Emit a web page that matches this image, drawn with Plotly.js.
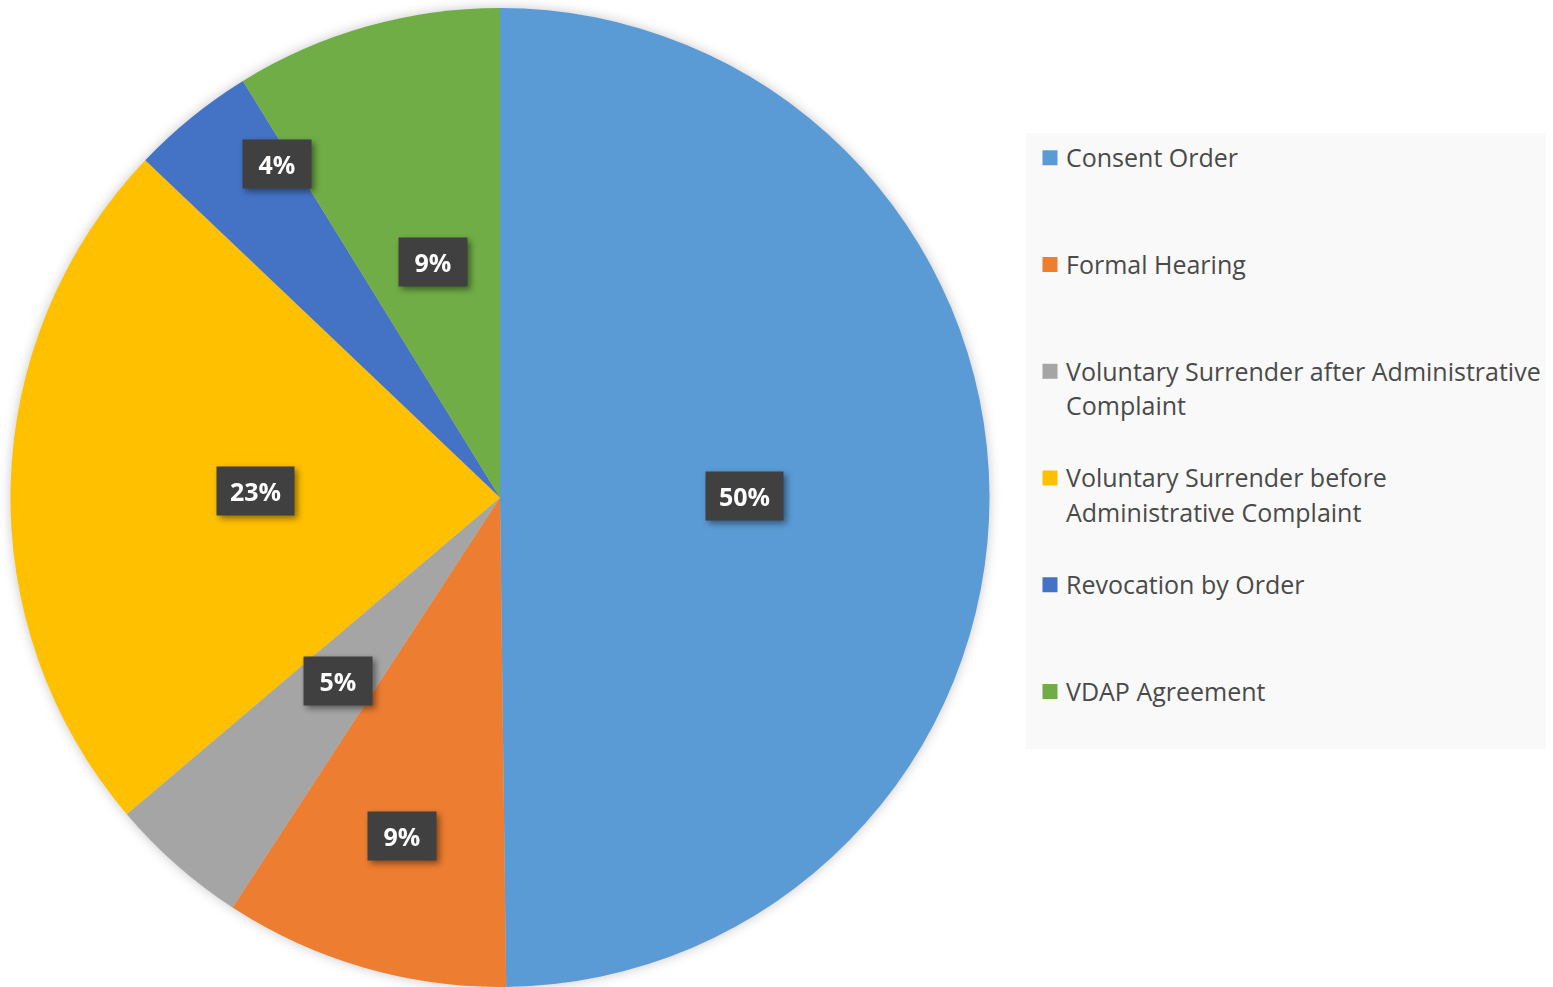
<!DOCTYPE html>
<html>
<head>
<meta charset="utf-8">
<script src="https://cdn.plot.ly/plotly-3.0.1.min.js"></script>
<style>
  html, body { margin: 0; padding: 0; background: #ffffff; }
  #chart { width: 1553px; height: 987px; }
  .pielayer { filter: drop-shadow(0px 0px 6px rgba(0,0,0,0.22)); }
  .annotation { filter: drop-shadow(3px 3px 3px rgba(0,0,0,0.45)); }
  .legend .legendpie { transform: translate(24px, 1px) scale(1.25); }
</style>
</head>
<body>
<div id="chart"></div>
<script>
// ---- data ----
const categories = [
  "Consent Order",
  "Formal Hearing",
  "Voluntary Surrender after Administrative<br>Complaint",
  "Voluntary Surrender before<br>Administrative Complaint",
  "Revocation by Order",
  "VDAP Agreement"
];
const values = [49.8, 9.4, 4.6, 23.3, 4.1, 8.8];
const percentLabels = ["50%", "9%", "5%", "23%", "4%", "9%"];

// ---- styles ----
const colors = ["#5B9BD5", "#ED7D31", "#A5A5A5", "#FFC000", "#4472C4", "#70AD47"];
const labelRadius = [0.5, 0.72, 0.5, 0.5, 0.82, 0.5];
const labelAngleShift = [0, 0, 0, 0, 5.3, 0]; // degrees, label placement tweak

const W = 1553, H = 987;
const domX = [10.5 / W, 989.5 / W];
const domY = [0, 1 - 8 / H];

const legendFontSize = 26.6;
const legendTextSize = 25;
const FONT = "Open Sans, Noto Sans, sans-serif";

function legendText(cat, i) {
  const lines = cat.split("<br>");
  const parts = lines.map(l => '<span style="font-size:' + legendTextSize + 'px">' + l + '</span>');
  const minLines = (i === categories.length - 1) ? 2 : 3;
  while (parts.length < minLines) parts.push("&nbsp;");
  return parts.join("<br>");
}
const legendLabels = categories.map(legendText);

// annotation positions computed from the data
const cx = (domX[0] + domX[1]) / 2 * W;
const cy = (1 - (domY[0] + domY[1]) / 2) * H;
const R = Math.min((domX[1] - domX[0]) * W, (domY[1] - domY[0]) * H) / 2;
const total = values.reduce((a, b) => a + b, 0);
let cum = 0;
const annotations = values.map((v, i) => {
  const theta = 2 * Math.PI * (cum + v / 2) / total + labelAngleShift[i] * Math.PI / 180;
  cum += v;
  const px = cx + labelRadius[i] * R * Math.sin(theta);
  const py = cy - labelRadius[i] * R * Math.cos(theta);
  const txt = percentLabels[i];
  return {
    xref: "paper", yref: "paper",
    x: px / W, y: 1 - py / H,
    xanchor: "center", yanchor: "middle",
    text: "<b>" + txt + "</b>",
    showarrow: false,
    font: { family: FONT, size: 25, color: "#ffffff" },
    bgcolor: "#404040",
    borderpad: 9,
    width: txt.length >= 3 ? 59 : 50,
    height: 30
  };
});

const trace = {
  type: "pie",
  labels: legendLabels,
  values: values,
  sort: false,
  direction: "clockwise",
  rotation: 0,
  textinfo: "none",
  hoverinfo: "skip",
  marker: { colors: colors, line: { width: 0 } },
  domain: { x: domX, y: domY }
};

const layout = {
  width: W, height: H,
  margin: { l: 0, r: 0, t: 0, b: 0, autoexpand: false },
  paper_bgcolor: "#ffffff",
  showlegend: true,
  legend: {
    x: 1026 / W, y: 1 - 133 / H,
    xanchor: "left", yanchor: "top",
    bgcolor: "#f9f9f9",
    borderwidth: 0,
    valign: "top",
    font: { family: FONT, size: legendFontSize, color: "#4a4a4a" },
    traceorder: "normal"
  },
  annotations: annotations
};

Plotly.newPlot("chart", [trace], layout, { displayModeBar: false, staticPlot: true });
</script>
</body>
</html>
